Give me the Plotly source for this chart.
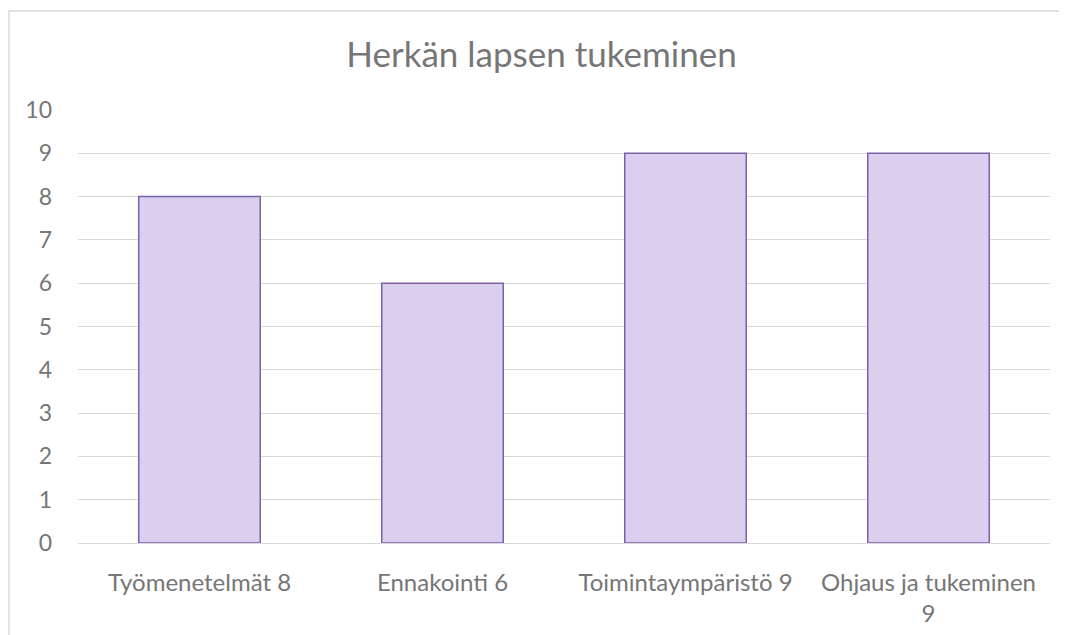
import plotly.graph_objects as go

title_text = "Herkän lapsen tukeminen"
categories = ["Työmenetelmät 8", "Ennakointi 6", "Toimintaympäristö 9", "Ohjaus ja tukeminen<br>9"]
values = [8, 6, 9, 9]
y_ticks = [0, 1, 2, 3, 4, 5, 6, 7, 8, 9, 10]

FONT = "Lato, 'Open Sans', sans-serif"
TEXT = "#767676"
GRID = "#D9D9D9"

fig = go.Figure()
fig.add_trace(go.Bar(
    x=categories, y=values,
    marker=dict(color="#DACFEE", line=dict(color="#7B62A8", width=1.5)),
    hoverinfo="x+y",
))

fig.update_layout(
    width=1067, height=635,
    margin=dict(l=70, r=25, t=102, b=100),
    paper_bgcolor="white", plot_bgcolor="white",
    title=dict(text=title_text, x=0.5, xref="container", xanchor="center",
               y=0.926, yref="container", yanchor="middle",
               font=dict(family=FONT, size=35, color=TEXT)),
    bargap=0.5,
    showlegend=False,
    font=dict(family=FONT, color=TEXT),
    xaxis=dict(showgrid=False, showline=True, linecolor=GRID, linewidth=1,
               tickfont=dict(size=24, color=TEXT), ticks="", ticklabelstandoff=18),
    yaxis=dict(range=[0, 10], tickvals=y_ticks, showgrid=True, gridcolor=GRID, gridwidth=1,
               zeroline=False, showline=False, ticks="",
               tickfont=dict(size=23, color=TEXT), ticklabelstandoff=25),
    shapes=[dict(type="rect", xref="paper", yref="paper",
                 x0=-0.071, x1=1.05, y0=-0.3, y1=1.2286,
                 line=dict(color="#D9D9D9", width=1.5), fillcolor="rgba(0,0,0,0)", layer="below")],
)

fig.write_html("out.html")
